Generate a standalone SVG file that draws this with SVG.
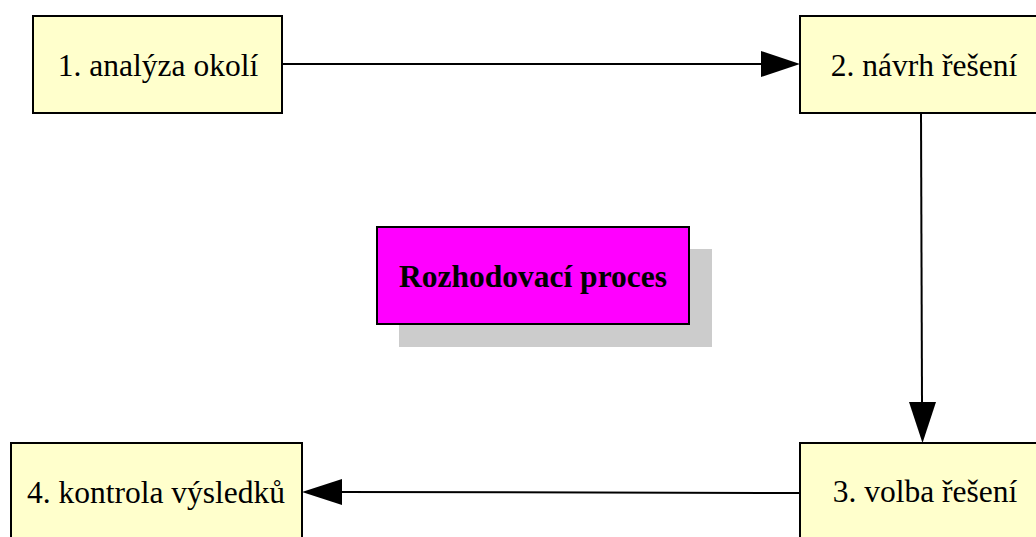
<svg xmlns="http://www.w3.org/2000/svg" width="1036" height="537" viewBox="0 0 1036 537">
  <style>
    .step { fill: #FFFFCC; stroke: #000; stroke-width: 2; }
    .step-label { font-family: "Liberation Serif", "Times New Roman", serif; font-size: 31.5px; fill: #000; text-anchor: middle; }
    .title-box { fill: #FF00FF; stroke: #000; stroke-width: 2; }
    .shadow { fill: #CCCCCC; }
    .title-label { font-family: "Liberation Serif", "Times New Roman", serif; font-size: 31.5px; font-weight: bold; fill: #000; text-anchor: middle; }
    .edge { stroke: #000; stroke-width: 2; fill: none; }
    .head { fill: #000; }
  </style>
  <rect width="1036" height="537" fill="#FFFFFF"/>

  <!-- process steps -->
  <g id="step1">
    <rect class="step" x="33" y="16" width="249" height="97"/>
    <text class="step-label" x="158" y="76">1. analýza okolí</text>
  </g>
  <g id="step2">
    <rect class="step" x="800" y="16" width="250" height="97"/>
    <text class="step-label" x="924" y="76">2. návrh řešení</text>
  </g>
  <g id="step3">
    <rect class="step" x="800" y="443" width="250" height="110"/>
    <text class="step-label" x="925" y="502">3. volba řešení</text>
  </g>
  <g id="step4">
    <rect class="step" x="11" y="443" width="291" height="110"/>
    <text class="step-label" x="156" y="503">4. kontrola výsledků</text>
  </g>

  <!-- centre title with drop shadow -->
  <g id="title">
    <rect class="shadow" x="399" y="249" width="313" height="98"/>
    <rect class="title-box" x="377" y="227" width="312" height="97"/>
    <text class="title-label" x="533" y="287">Rozhodovací proces</text>
  </g>

  <!-- connectors -->
  <g id="connectors">
    <line class="edge" x1="282" y1="64" x2="762" y2="64"/>
    <polygon class="head" points="800,64 761,51 761,77"/>

    <line class="edge" x1="921" y1="113" x2="922" y2="404"/>
    <polygon class="head" points="922.5,443 909,402 936,402"/>

    <line class="edge" x1="800" y1="493" x2="340" y2="492"/>
    <polygon class="head" points="302,492 342,479 342,505"/>
  </g>
</svg>
